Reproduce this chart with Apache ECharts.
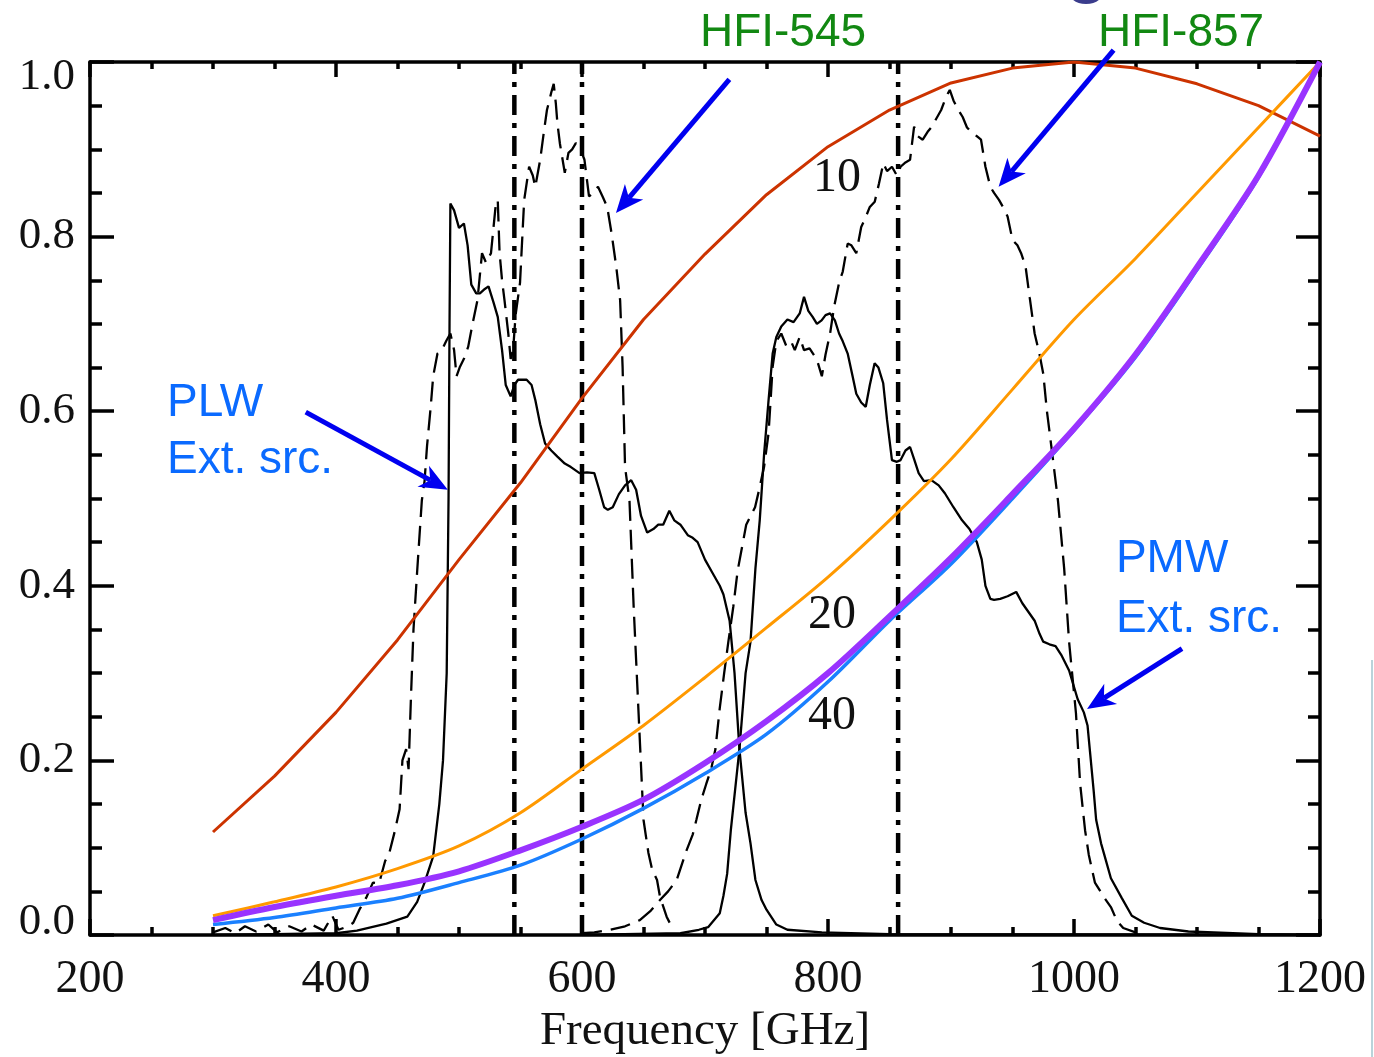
<!DOCTYPE html>
<html>
<head>
<meta charset="utf-8">
<script src="https://cdn.jsdelivr.net/npm/echarts@6/dist/echarts.min.js"></script>
<style>
html,body{margin:0;padding:0;background:#fff;}
#chart{width:1374px;height:1057px;}
</style>
</head>
<body>
<div id="chart"></div>
<script>
// model curves (normalised), sampled every 50 GHz
var freqModel = [300,350,400,450,500,550,600,650,700,750,800,850,900,950,1000,1050,1100,1150,1200];
var curve10 = [0.118,0.182,0.255,0.338,0.430,0.518,0.615,0.705,0.780,0.848,0.903,0.945,0.976,0.993,1.0,0.993,0.975,0.950,0.915];
var curve20 = [0.022,0.038,0.055,0.076,0.102,0.140,0.190,0.240,0.295,0.352,0.410,0.475,0.545,0.625,0.705,0.775,0.850,0.925,1.0];
var curve40 = [0.012,0.020,0.031,0.042,0.060,0.080,0.110,0.145,0.185,0.230,0.290,0.360,0.425,0.500,0.578,0.662,0.762,0.868,1.0];
var curveExt = [0.017,0.032,0.045,0.057,0.073,0.097,0.124,0.155,0.197,0.245,0.300,0.365,0.432,0.505,0.580,0.665,0.765,0.870,1.0];

// SPIRE filter profiles (solid)
var plwBand = [[300,0],[350,0.001],[400,0.002],[417,0.005],[441,0.013],[458,0.021],[466,0.038],[472,0.06],[479,0.09],[484,0.15],[487,0.2],[490,0.3],[491.5,0.5],[492.3,0.7],[493,0.838],[496,0.83],[500,0.81],[504,0.815],[507,0.79],[510,0.745],[514,0.735],[517,0.735],[521,0.74],[524,0.743],[528,0.725],[531.5,0.708],[535,0.67],[538,0.63],[542,0.617],[545,0.63],[548,0.636],[555,0.636],[559,0.63],[562,0.613],[566,0.585],[570,0.563],[575,0.555],[580,0.548],[586,0.54],[591,0.536],[598,0.529],[604,0.53],[610,0.529],[614,0.51],[618,0.49],[621,0.487],[625,0.49],[630,0.505],[635,0.515],[640,0.521],[644,0.51],[648,0.48],[653,0.461],[658,0.465],[662,0.47],[666,0.47],[671,0.486],[675,0.475],[680,0.47],[686,0.458],[690,0.455],[694,0.45],[700,0.43],[706,0.415],[712,0.40],[715,0.39],[720,0.36],[724,0.30],[728,0.213],[733,0.14],[737,0.105],[741,0.063],[746,0.04],[750,0.029],[758,0.012],[767,0.006],[795,0.003],[850,0.001],[1200,0]];
var pmwBand = [[600,0],[680,0.002],[695,0.006],[702.5,0.009],[712,0.025],[715,0.045],[718,0.07],[721,0.12],[724,0.16],[728,0.213],[733,0.3],[737,0.336],[741,0.42],[744.5,0.475],[748,0.55],[751.7,0.613],[755,0.666],[758,0.685],[762,0.697],[767,0.705],[772,0.702],[777,0.712],[780.5,0.731],[784,0.715],[787.5,0.708],[791,0.70],[794.8,0.704],[798,0.71],[801.7,0.712],[805.6,0.704],[809,0.689],[812,0.68],[816,0.666],[820,0.64],[823,0.62],[827,0.61],[830.7,0.605],[834,0.63],[837.9,0.655],[841,0.65],[844.9,0.632],[848,0.59],[852,0.544],[856,0.542],[859,0.544],[863,0.555],[866.7,0.559],[870,0.545],[873.7,0.529],[878,0.52],[884,0.521],[890,0.515],[895,0.506],[902,0.49],[909,0.475],[915,0.465],[921,0.45],[925,0.43],[928,0.40],[932,0.385],[935,0.384],[940,0.385],[946,0.388],[953,0.393],[958,0.38],[963,0.37],[968,0.36],[972,0.345],[975,0.336],[980,0.333],[985,0.331],[990,0.32],[996,0.303],[1003,0.27],[1008,0.255],[1011,0.24],[1013,0.21],[1016,0.165],[1018,0.132],[1022,0.105],[1025,0.09],[1030,0.065],[1039,0.042],[1047,0.022],[1057,0.014],[1070,0.008],[1093,0.004],[1150,0.001],[1200,0]];

// Planck HFI profiles (dashed)
var hfi545 = [[300,0.003],[310,0.008],[318,0.002],[326,0.01],[335,0.004],[345,0.012],[352,0.003],[362,0.01],[372,0.004],[380,0.012],[390,0.005],[397,0.022],[402,0.006],[410,0.01],[414,0.014],[419,0.029],[425,0.044],[430,0.06],[435,0.059],[440,0.085],[443,0.092],[448,0.12],[451.7,0.144],[454,0.2],[457,0.213],[459,0.19],[461,0.275],[463,0.35],[466,0.417],[469.8,0.498],[472,0.52],[474,0.56],[477,0.605],[479,0.64],[482.5,0.666],[486,0.67],[489.8,0.681],[493,0.689],[496,0.67],[498,0.64],[500.8,0.651],[504,0.66],[507.5,0.674],[511,0.70],[515,0.727],[518.7,0.781],[522,0.77],[526,0.781],[529.7,0.834],[531.5,0.842],[533,0.781],[535,0.75],[537,0.727],[540,0.69],[542,0.66],[544,0.67],[546,0.71],[549.6,0.747],[553,0.842],[557,0.88],[560,0.87],[562,0.857],[566,0.888],[569,0.92],[571.5,0.945],[575,0.965],[577,0.975],[578.7,0.953],[580,0.93],[582,0.907],[586,0.873],[589,0.896],[592,0.90],[595,0.907],[598,0.903],[602,0.888],[605.7,0.846],[609,0.85],[613,0.857],[617,0.845],[620.5,0.834],[624,0.804],[627.8,0.766],[631,0.727],[633,0.651],[635,0.536],[638.6,0.498],[642,0.376],[646,0.254],[650,0.132],[654,0.094],[657,0.075],[661,0.063],[663.4,0.044],[668.8,0.021],[672,0.012]];
var hfi857 = [[600,0.002],[610,0.003],[622.8,0.006],[635,0.01],[647,0.017],[656,0.028],[663.4,0.04],[670,0.05],[677,0.063],[685,0.097],[690,0.115],[693,0.132],[697,0.155],[701,0.173],[705,0.19],[708.5,0.213],[712,0.26],[715.5,0.299],[719,0.336],[723,0.376],[726.5,0.417],[733.5,0.47],[740.7,0.49],[744,0.51],[748,0.536],[751.7,0.575],[755,0.651],[758,0.68],[762,0.689],[766,0.675],[770,0.68],[773,0.67],[777,0.685],[780.5,0.67],[785,0.672],[791,0.659],[795,0.64],[798,0.665],[801.7,0.689],[805,0.72],[809,0.747],[812,0.76],[816,0.792],[819,0.79],[823,0.781],[827,0.811],[830,0.82],[834,0.834],[838,0.84],[841.5,0.861],[845,0.884],[848,0.875],[852,0.88],[856,0.87],[859,0.88],[863,0.885],[866.7,0.888],[870,0.926],[873,0.915],[877,0.911],[881,0.92],[884.5,0.926],[888,0.935],[892,0.945],[896,0.96],[899,0.968],[902,0.956],[906,0.945],[909.5,0.937],[913,0.925],[917,0.919],[921,0.915],[924.4,0.911],[928,0.88],[932,0.857],[935,0.85],[939,0.842],[943,0.832],[946,0.823],[950,0.796],[954,0.79],[957,0.781],[960.6,0.766],[964,0.73],[968,0.689],[972,0.665],[975,0.643],[978,0.60],[982,0.555],[987,0.497],[992,0.42],[996,0.336],[1001.6,0.254],[1005,0.173],[1009,0.12],[1012,0.092],[1017,0.06],[1025,0.042],[1030,0.032],[1035,0.016],[1040,0.008],[1050,0.003]];

// band centres marked with dash-dot lines
var bandCentres = [545, 600, 857];

// axis ticks
var xTicks = [200, 400, 600, 800, 1000, 1200];
var yTicks = [0.0, 0.2, 0.4, 0.6, 0.8, 1.0];

// annotations in data coordinates
var labelTexts = ['HFI-545', 'HFI-857', 'PLW', 'Ext. src.', 'PMW', 'Ext. src.'];
var labelPos = [[695.9,1.033],[1019.5,1.033],[262.6,0.609],[262.6,0.544],[1034.1,0.430],[1034.1,0.362]];
var labelColors = ['#128812','#128812','#0a6aff','#0a6aff','#0a6aff','#0a6aff'];
var tempTexts = ['10', '20', '40'];
var tempPos = [[787.8,0.867],[783.7,0.366],[783.7,0.250]];
var arrowFrom = [[719.8,0.980],[1032.2,1.0137],[375.4,0.599],[1087.8,0.328]];
var arrowTo = [[627.6,0.827],[938.7,0.857],[490.9,0.51],[1010.6,0.259]];

function zip(xs, ys){
    var out = [];
    for (var i = 0; i < xs.length; i++) out.push([xs[i], ys[i]]);
    return out;
}

var serif = '"Liberation Serif", "Times New Roman", serif';
var sans = '"Liberation Sans", Arial, sans-serif';

var chart = echarts.init(document.getElementById('chart'));

function baseX(pos, showLabel, tickLen, minorLen){
    return {
        type: 'value', position: pos, min: xTicks[0], max: xTicks[xTicks.length-1],
        interval: xTicks[1]-xTicks[0],
        axisLine: {show: true, onZero: false, lineStyle: {color: '#000', width: 3.5}},
        axisTick: {show: true, inside: true, length: tickLen, lineStyle: {color: '#000', width: 3.5}},
        minorTick: {show: true, splitNumber: 4, length: minorLen, lineStyle: {color: '#000', width: 3.5}},
        splitLine: {show: false},
        axisLabel: {show: showLabel, color: '#111', fontFamily: serif, fontSize: 46, margin: 22,
            formatter: function(v){ return String(v); }},
        name: showLabel ? 'Frequency [GHz]' : '',
        nameLocation: 'middle', nameGap: 72,
        nameTextStyle: {color: '#111', fontFamily: serif, fontSize: 47}
    };
}
function baseY(pos, showLabel){
    return {
        type: 'value', position: pos, min: yTicks[0], max: yTicks[yTicks.length-1],
        interval: yTicks[1]-yTicks[0],
        axisLine: {show: true, onZero: false, lineStyle: {color: '#000', width: 3.5}},
        axisTick: {show: true, inside: true, length: 24, lineStyle: {color: '#000', width: 3.5}},
        minorTick: {show: true, splitNumber: 4, length: 12, lineStyle: {color: '#000', width: 3.5}},
        splitLine: {show: false},
        axisLabel: {
            show: showLabel, color: '#111', fontFamily: serif, fontSize: 45, margin: 15,
            formatter: function(v){
                if (v === 0) return '{lo|0.0}';
                if (Math.abs(v-1) < 1e-9) return '{hi|1.0}';
                return v.toFixed(1);
            },
            rich: {
                lo: {fontFamily: serif, fontSize: 45, color: '#111', padding: [0,0,26,0]},
                hi: {fontFamily: serif, fontSize: 45, color: '#111', padding: [30,0,0,0]}
            }
        }
    };
}

var series = [];
series.push({type: 'line', data: plwBand, symbol: 'none', lineStyle: {color: '#000', width: 2.3}});
series.push({type: 'line', data: pmwBand, symbol: 'none', lineStyle: {color: '#000', width: 2.3}});
series.push({type: 'line', data: hfi545, symbol: 'none', lineStyle: {color: '#000', width: 2.3, type: [20, 9]}});
series.push({type: 'line', data: hfi857, symbol: 'none', lineStyle: {color: '#000', width: 2.3, type: [20, 9]}});
bandCentres.forEach(function(f){
    series.push({type: 'line', data: [[f, 0], [f, 1]], symbol: 'none',
        lineStyle: {color: '#000', width: 4.5, type: [20, 8, 5, 8]}});
});
series.push({type: 'line', data: zip(freqModel, curve10), symbol: 'none', lineStyle: {color: '#cc3300', width: 3}});
series.push({type: 'line', data: zip(freqModel, curve20), symbol: 'none', smooth: 0.3, lineStyle: {color: '#ff9900', width: 3}});
series.push({type: 'line', data: zip(freqModel, curve40), symbol: 'none', smooth: 0.3, lineStyle: {color: '#1a80ff', width: 3.5}});
series.push({type: 'line', data: zip(freqModel, curveExt), symbol: 'none', smooth: 0.3, lineStyle: {color: '#9933ff', width: 6}});

chart.setOption({
    animation: false,
    backgroundColor: '#fff',
    grid: {left: 90, right: 54, top: 62, bottom: 122, containLabel: false, outerBoundsMode: 'none'},
    xAxis: [baseX('bottom', true, 16, 8), baseX('top', false, 15, 7)],
    yAxis: [baseY('left', true), baseY('right', false)],
    series: series
});

// annotations: texts and arrows placed from data coordinates
function px(p){ return chart.convertToPixel({xAxisIndex: 0, yAxisIndex: 0}, p); }
var graphics = [];
labelTexts.forEach(function(t, i){
    var p = px(labelPos[i]);
    graphics.push({type: 'text', x: p[0], y: p[1], z: 100,
        style: {text: t, fill: labelColors[i], font: '46px ' + sans, align: 'left', verticalAlign: 'middle'}});
});
tempTexts.forEach(function(t, i){
    var p = px(tempPos[i]);
    graphics.push({type: 'text', x: p[0], y: p[1], z: 100,
        style: {text: t, fill: '#111', font: '48px ' + serif, align: 'left', verticalAlign: 'middle'}});
});
arrowFrom.forEach(function(a, i){
    var p0 = px(a), p1 = px(arrowTo[i]);
    var dx = p1[0]-p0[0], dy = p1[1]-p0[1], L = Math.sqrt(dx*dx+dy*dy);
    var ux = dx/L, uy = dy/L, nx = -uy, ny = ux;
    var hl = 28, hw = 12, notch = 8;
    var bx = p1[0]-ux*hl, by = p1[1]-uy*hl;
    var mx = p1[0]-ux*(hl-notch), my = p1[1]-uy*(hl-notch);
    graphics.push({type: 'line', z: 100, shape: {x1: p0[0], y1: p0[1], x2: mx, y2: my},
        style: {stroke: '#0000f0', lineWidth: 5}});
    graphics.push({type: 'polygon', z: 100,
        shape: {points: [[p1[0], p1[1]], [bx+nx*hw, by+ny*hw], [mx, my], [bx-nx*hw, by-ny*hw]]},
        style: {fill: '#0000f0'}});
});
// slide decorations cut by the crop
graphics.push({type: 'ellipse', shape: {cx: 1086, cy: -6, rx: 16, ry: 10}, style: {fill: '#3a3c8c'}});
graphics.push({type: 'line', shape: {x1: 1372, y1: 660, x2: 1372, y2: 1057}, style: {stroke: '#b9d3da', lineWidth: 2}});
chart.setOption({graphic: graphics});
</script>
</body>
</html>
